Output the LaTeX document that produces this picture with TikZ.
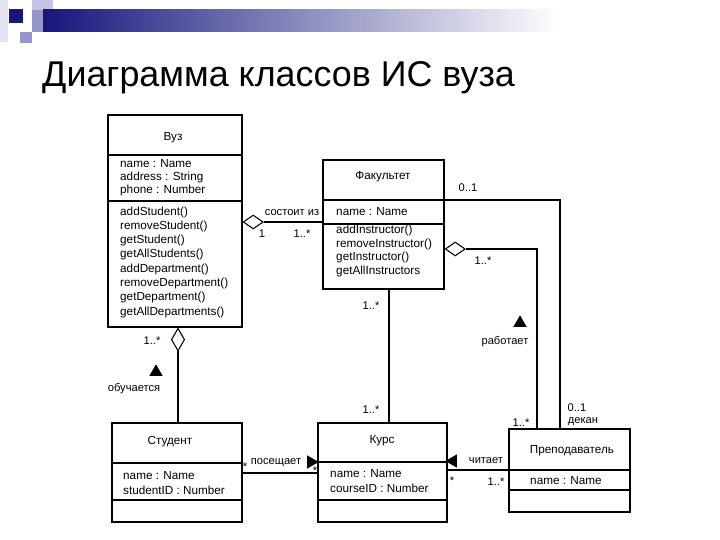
\documentclass[tikz,border=0pt]{standalone}
\usepackage{fontspec}
\setmainfont{Liberation Sans}
\usetikzlibrary{shapes.geometric,calc}
\definecolor{navyb}{RGB}{22,22,125}
\definecolor{pale}{RGB}{228,228,242}
\definecolor{lav}{RGB}{196,196,228}
\definecolor{midlav}{RGB}{150,150,205}
\begin{document}
\begin{tikzpicture}[x=0.03cm,y=-0.03cm,
  classbox/.style={draw, line width=1.2pt, inner sep=0},
  divline/.style={line width=1pt},
  conn/.style={line width=0.9pt},
  agg/.style={diamond, draw, line width=0.9pt, fill=white, inner sep=0, minimum width=0.6cm, minimum height=0.42cm},
  aggv/.style={diamond, draw, line width=0.9pt, fill=white, inner sep=0, minimum width=0.4cm, minimum height=0.68cm},
  lbl/.style={font=\fontsize{9.5}{11}\selectfont, inner sep=0},
  ctext/.style={font=\fontsize{10}{12}\selectfont, inner sep=0, align=left, anchor=west},
  cname/.style={font=\fontsize{10}{12}\selectfont, inner sep=0},
  tri/.style={regular polygon, regular polygon sides=3, fill=black, inner sep=0, minimum size=0.46cm}]

\useasboundingbox[fill=white] (0,0) rectangle (720,540);

% header decoration
\fill[pale] (0,0) rectangle (8,42);
\fill[lav] (32,0) rectangle (53,28);
\fill[midlav] (32,10) rectangle (43,32);
\fill[midlav] (20,32) rectangle (32,43);
\fill[navyb] (9,9) rectangle (23,23);
\shade[left color=navyb, right color=white] (43,10) rectangle (560,32);

% title
\node[font=\fontsize{30.6}{33}\selectfont, anchor=base west, inner sep=0] (title) at (42,87) {Диаграмма классов ИС вуза};

% classes
\node[classbox, minimum width=4.02cm, minimum height=6.36cm] (vuz) at (175,221) {};
\node[classbox, minimum width=3.63cm, minimum height=3.87cm] (fak) at (383.5,224.5) {};
\node[classbox, minimum width=3.9cm, minimum height=2.97cm] (stud) at (177,472.5) {};
\node[classbox, minimum width=3.87cm, minimum height=2.97cm] (kurs) at (382.5,472.5) {};
\node[classbox, minimum width=3.63cm, minimum height=2.49cm] (prep) at (569.5,470.5) {};

% dividers
\draw[divline] (vuz.west |- 0,155) -- (vuz.east |- 0,155);
\draw[divline] (vuz.west |- 0,201) -- (vuz.east |- 0,201);
\draw[divline] (fak.west |- 0,200) -- (fak.east |- 0,200);
\draw[divline] (fak.west |- 0,224) -- (fak.east |- 0,224);
\draw[divline] (stud.west |- 0,463) -- (stud.east |- 0,463);
\draw[divline] (stud.west |- 0,500) -- (stud.east |- 0,500);
\draw[divline] (kurs.west |- 0,462) -- (kurs.east |- 0,462);
\draw[divline] (kurs.west |- 0,500) -- (kurs.east |- 0,500);
\draw[divline] (prep.west |- 0,470) -- (prep.east |- 0,470);
\draw[divline] (prep.west |- 0,490) -- (prep.east |- 0,490);

% class texts
\node[cname] (vuzn) at (173,138) {Вуз};
\node[ctext, font=\fontsize{10}{11.2}\selectfont] (vuza) at (120,178) {name : Name\\address : String\\phone : Number};
\node[ctext, font=\fontsize{10}{12.2}\selectfont] (vuzo) at (120,262) {addStudent()\\removeStudent()\\getStudent()\\getAllStudents()\\addDepartment()\\removeDepartment()\\getDepartment()\\getAllDepartments()};

\node[cname] (fakn) at (383,177) {Факультет};
\node[ctext] (faka) at (336,212) {name : Name};
\node[ctext, font=\fontsize{10}{11.8}\selectfont] (fako) at (336,251) {addInstructor()\\removeInstructor()\\getInstructor()\\getAllInstructors};

\node[cname] (studn) at (170,442) {Студент};
\node[ctext] (studa) at (123,483) {name : Name\\studentID : Number};

\node[cname] (kursn) at (382,441) {Курс};
\node[ctext] (kursa) at (330,481) {name : Name\\courseID : Number};

\node[cname] (prepn) at (572,451) {Преподаватель};
\node[ctext] (prepa) at (530,481) {name : Name};

% aggregations and associations
\node[agg, anchor=west] (d1) at (vuz.east |- 0,222) {};
\draw[conn] (d1.east) -- (fak.west |- d1.east);

\node[agg, anchor=west] (d2) at (fak.east |- 0,249) {};
\draw[line width=1.4pt] (d2.east) -| (prep.north -| 537,0);

\draw[conn] (fak.east |- 0,200) -| (prep.north -| 560,0);

\draw[conn] (fak.south -| 389,0) -- (kurs.north -| 389,0);

\node[aggv, anchor=north] (d3) at (vuz.south -| 178,0) {};
\draw[conn] (d3.south) -- (stud.north -| d3.south);

\draw[conn] (stud.east |- 0,473) -- (kurs.west |- 0,473);
\draw[conn] (kurs.east |- 0,470) -- (prep.west |- 0,470);

% labels
\node[lbl] (l1) at (292,213) {состоит из};
\node[lbl] (l2) at (262,234) {1};
\node[lbl] (l3) at (302,234) {1..*};
\node[lbl] (l4) at (468,188) {0..1};
\node[lbl] (l5) at (483,261) {1..*};
\node[tri] (t1) at (520,323) {};
\node[lbl] (l6) at (505,342) {работает};
\node[lbl] (l7) at (577,408) {0..1};
\node[lbl] (l8) at (583,422) {декан};
\node[lbl] (l9) at (521,423) {1..*};
\node[lbl] (l10) at (371,306) {1..*};
\node[lbl] (l11) at (371,410) {1..*};
\node[lbl] (l12) at (152,341) {1..*};
\node[tri] (t2) at (156,372) {};
\node[lbl] (l13) at (134,389) {обучается};
\node[lbl] (l14) at (276,463) {посещает};
\node[tri, shape border rotate=-90] (t3) at (311,462) {};
\node[lbl] (l15) at (245,467) {*};
\node[lbl] (l16) at (315,471) {*};
\node[lbl] (l17) at (486,461) {читает};
\node[tri, shape border rotate=90] (t4) at (453,461) {};
\node[lbl] (l18) at (452,481) {*};
\node[lbl] (l19) at (496,482) {1..*};
\end{tikzpicture}
\end{document}
